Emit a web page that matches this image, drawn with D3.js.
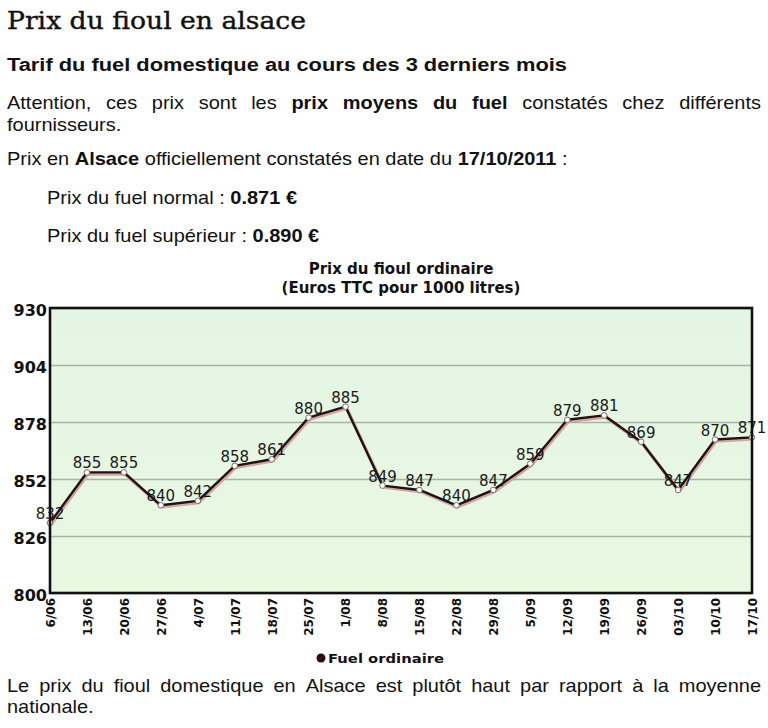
<!DOCTYPE html>
<html>
<head>
<meta charset="utf-8">
<script src="https://cdnjs.cloudflare.com/ajax/libs/d3/7.8.5/d3.min.js"></script>
<style>
  body { margin: 0; background: #fff; }
  text { fill: #111; }
  .body-text { font-family: "Liberation Sans", Arial, sans-serif; }
  .chart-text { font-family: "DejaVu Sans", Verdana, sans-serif; }
</style>
</head>
<body>
<svg id="page" width="768" height="728"></svg>
<script>
// data
const dates = ["6/06","13/06","20/06","27/06","4/07","11/07","18/07","25/07","1/08","8/08",
               "15/08","22/08","29/08","5/09","12/09","19/09","26/09","03/10","10/10","17/10"];
const prices = [832, 855, 855, 840, 842, 858, 861, 880, 885, 849,
                847, 840, 847, 859, 879, 881, 869, 847, 870, 871];
const yTicks = [800, 826, 852, 878, 904, 930];
const seriesName = "Fuel ordinaire";

const svg = d3.select("#page");

// ---- text above and below the chart ----
svg.append("text")
  .attr("x", 7).attr("y", 29)
  .style("font-family", "'DejaVu Serif', 'Liberation Serif', serif")
  .style("font-size", "25px")
  .style("stroke", "#111").style("stroke-width", 0.4)
  .attr("textLength", 299).attr("lengthAdjust", "spacingAndGlyphs")
  .text("Prix du fioul en alsace");

svg.append("text")
  .attr("class", "body-text")
  .attr("x", 7).attr("y", 71)
  .style("font-size", "18px").style("font-weight", "bold")
  .attr("textLength", 560).attr("lengthAdjust", "spacingAndGlyphs")
  .text("Tarif du fuel domestique au cours des 3 derniers mois");

// one line of words, a bit widened, optionally justified between x0 and x1
const stretch = 1.11;
function wordLine(parts, x0, y, size, x1) {
  const g = svg.append("g").attr("class", "body-text")
    .attr("transform", "translate(" + x0 + "," + y + ") scale(" + stretch + ",1)");
  const words = [];
  parts.forEach(([t, b]) => t.split(" ").filter(w => w).forEach(w => words.push({ w, b })));
  const nodes = words.map(d => g.append("text")
    .style("font-size", size + "px")
    .style("font-weight", d.b ? "bold" : "normal")
    .text(d.w));
  const widths = nodes.map(n => n.node().getComputedTextLength());
  const space = x1 ? ((x1 - x0) / stretch - d3.sum(widths)) / (words.length - 1) : size * 0.28;
  let cx = 0;
  nodes.forEach((n, i) => { n.attr("x", cx); cx += widths[i] + space; });
}

wordLine([["Attention, ces prix sont les", false], ["prix moyens du fuel", true],
          ["constatés chez différents", false]], 7, 109, 18, 761);
wordLine([["fournisseurs.", false]], 7, 131, 18);
wordLine([["Prix en", false], ["Alsace", true], ["officiellement constatés en date du", false],
          ["17/10/2011", true], [":", false]], 7, 165, 18);
wordLine([["Prix du fuel normal :", false], ["0.871 €", true]], 47, 204, 18);
wordLine([["Prix du fuel supérieur :", false], ["0.890 €", true]], 47, 242, 18);

wordLine([["Le prix du fioul domestique en Alsace est plutôt haut par rapport à la moyenne", false]],
         7, 692, 18, 761);
wordLine([["nationale.", false]], 7, 713, 18);

// ---- chart ----
const plot = { left: 50, right: 752, top: 308, bottom: 593 };

const x = d3.scalePoint().domain(dates).range([plot.left, plot.right]);
const y = d3.scaleLinear().domain([800, 930]).range([plot.bottom, plot.top]);

const defs = svg.append("defs");
const grad = defs.append("linearGradient").attr("id", "bg")
  .attr("x1", 0).attr("x2", 0).attr("y1", 0).attr("y2", 1);
grad.append("stop").attr("offset", "0%").attr("stop-color", "#e4f5e4");
grad.append("stop").attr("offset", "100%").attr("stop-color", "#e8f8e1");

const chart = svg.append("g").attr("class", "chart-text");

chart.append("rect")
  .attr("x", plot.left).attr("y", plot.top)
  .attr("width", plot.right - plot.left).attr("height", plot.bottom - plot.top)
  .attr("fill", "url(#bg)");

// grid lines
chart.append("g")
  .attr("transform", "translate(" + plot.left + ",0)")
  .call(d3.axisLeft(y).tickValues(yTicks).tickSize(-(plot.right - plot.left)).tickFormat(""))
  .call(g => g.select(".domain").remove())
  .call(g => g.selectAll("line").attr("stroke", "#a6b4a6").attr("stroke-width", 1.6));

// titles
chart.append("text")
  .attr("x", (plot.left + plot.right) / 2).attr("y", 274)
  .attr("text-anchor", "middle")
  .style("font-size", "15px").style("font-weight", "bold")
  .text("Prix du fioul ordinaire");
chart.append("text")
  .attr("x", (plot.left + plot.right) / 2).attr("y", 293)
  .attr("text-anchor", "middle")
  .style("font-size", "15px").style("font-weight", "bold")
  .text("(Euros TTC pour 1000 litres)");

// y axis labels
chart.append("g")
  .attr("transform", "translate(" + plot.left + ",0)")
  .call(d3.axisLeft(y).tickValues(yTicks).tickSize(0).tickPadding(3))
  .call(g => g.select(".domain").remove())
  .call(g => g.selectAll("text")
    .attr("dy", "0.45em")
    .style("font-family", "'DejaVu Sans', Verdana, sans-serif")
    .style("font-size", "16px").style("font-weight", "bold").style("fill", "#111"));

// x axis labels
chart.append("g")
  .attr("transform", "translate(0," + plot.bottom + ")")
  .call(d3.axisBottom(x).tickSize(0))
  .call(g => g.select(".domain").remove())
  .call(g => g.selectAll("text")
    .attr("transform", "rotate(-90)")
    .attr("x", -5).attr("y", 0).attr("dy", "0.36em")
    .attr("text-anchor", "end")
    .style("font-family", "'DejaVu Sans', Verdana, sans-serif")
    .style("font-size", "12px").style("font-weight", "bold").style("fill", "#111"));

// line with its reddish shadow
const line = d3.line().x((d, i) => x(dates[i])).y(d => y(d));
chart.append("path")
  .datum(prices)
  .attr("d", line)
  .attr("transform", "translate(1,1.5)")
  .attr("fill", "none").attr("stroke", "#d7a3a3").attr("stroke-width", 3.5)
  .attr("stroke-linejoin", "round");
chart.append("path")
  .datum(prices)
  .attr("d", line)
  .attr("fill", "none").attr("stroke", "#1c1414").attr("stroke-width", 2.4)
  .attr("stroke-linejoin", "round");

chart.selectAll("circle.pt").data(prices)
  .join("circle")
  .attr("class", "pt")
  .attr("cx", (d, i) => x(dates[i])).attr("cy", d => y(d))
  .attr("r", 2.8)
  .attr("fill", "#fff").attr("stroke", "#7a6a6a").attr("stroke-width", 1);

chart.selectAll("text.val").data(prices)
  .join("text")
  .attr("class", "val")
  .attr("x", (d, i) => x(dates[i])).attr("y", d => y(d) - 4)
  .attr("text-anchor", "middle")
  .style("font-size", "15px").style("fill", "#1a1a1a")
  .text(d => d);

// frame
chart.append("rect")
  .attr("x", plot.left).attr("y", plot.top)
  .attr("width", plot.right - plot.left).attr("height", plot.bottom - plot.top)
  .attr("fill", "none").attr("stroke", "#111").attr("stroke-width", 2.6);

// legend
chart.append("circle")
  .attr("cx", 321).attr("cy", 658).attr("r", 4.5)
  .attr("fill", "#2e0b0b");
chart.append("text")
  .attr("x", 328).attr("y", 663)
  .style("font-size", "13px").style("font-weight", "bold")
  .attr("textLength", 116).attr("lengthAdjust", "spacingAndGlyphs")
  .text(seriesName);
</script>
</body>
</html>
